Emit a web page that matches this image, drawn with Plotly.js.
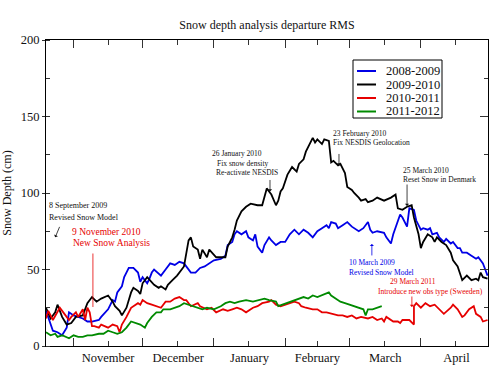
<!DOCTYPE html>
<html>
<head>
<meta charset="utf-8">
<script src="https://cdn.plot.ly/plotly-3.0.1.min.js"></script>
<style>html,body{margin:0;padding:0;background:#fff;}#chart{width:500px;height:379px;}</style>
</head>
<body>
<div id="chart"></div>
<script>
// Season names and colours
const seasonNames = ['2008-2009', '2009-2010', '2010-2011', '2011-2012'];
const seasonColors = ['#0000e6', '#000000', '#e60000', '#008a00'];

// Day of season (days after 20 October) and RMS snow-depth departure (cm)
const blueDays = [0,2,3,5,7,9,10,12,14,16,18,20,23,24,27,29,30,31,33,34,36,38,40,41,42,44,45,46,47,50,52,54,56,58,60,62,63,65,67,69,71,73,76,78,79,81,82,83,85,87,88,90,91,92,94,95,97,98,100,102,104,106,108,110,112,114,116,118,120,122,123,124,126,127,129,131,133,136,138,140,141,142,144,147,148,150,151,153,154,155,157,158,160,161,163,164,166,167,168,170,171,173,174,176,177,179,180,181,183,185,187,188,190,191,192];
const blueVals = [23,15,10,9,7,12,22,20,19,18,16,16,17,19,24,30,29,35,39,45,51,51,48,42,45,41,44,48,50,46,50,54,53,55,54,50,48,48,51,52,54,56,57,59,66,68,73,75,73,75,71,69,73,65,61,66,71,69,66,68,68,73,76,73,76,74,71,75,77,79,77,81,80,77,79,81,78,75,77,81,76,74,75,74,71,67,73,82,86,84,78,90,89,82,76,77,76,77,73,74,71,68,70,67,68,64,64,61,61,59,57,58,54,50,46];

const blackDays = [0,2,4,5,7,9,11,13,16,18,20,22,24,27,29,30,32,33,35,37,38,40,41,42,44,47,49,50,52,53,55,57,60,61,62,63,64,66,67,68,70,71,73,74,77,78,79,81,82,83,85,87,89,92,94,96,97,98,100,101,102,103,105,107,109,110,112,113,116,117,118,120,121,123,124,125,127,128,130,131,133,134,136,137,139,140,142,144,147,150,152,153,155,157,159,160,162,163,164,166,168,169,170,172,174,176,177,179,181,183,185,187,188,189,190,192];
const blackVals = [25,18,22,27,19,14,15,19,20,28,32,29,31,33,29,26,23,20,25,35,38,36,34,41,45,40,38,39,37,40,43,46,52,61,69,71,65,63,57,63,58,63,60,58,58,58,65,71,76,82,88,91,93,92,92,103,101,99,92,95,101,103,112,117,114,119,122,127,136,133,135,132,135,134,120,121,118,119,113,104,102,100,97,95,96,94,95,97,95,97,99,90,89,91,92,84,73,64,68,73,71,68,71,68,66,61,56,52,43,46,43,44,43,48,45,44];

const redDays = [0,1,3,5,6,8,10,11,13,14,16,17,18,19,20,21,23,24,27,29,31,32,33,35,37,40,41,42,44,46,48,50,52,54,56,58,60,61,63,66,67,70,72,74,77,79,81,83,85,87,90,92,94,97,98,100,102,104,106,108,110,111,113,116,118,120,122,124,127,129,131,133,135,137,140,142,144,146,147,148,150,151,153,154,155,157,158,160,160,161,163,165,167,169,171,173,176,177,179,181,182,184,186,187,189,190,192];
const redVals = [18,23,17,22,25,21,17,19,22,19,24,17,25,22,13,13,12,14,12,14,13,9,14,19,25,28,27,30,28,27,26,25,29,29,31,32,30,30,26,28,26,24,25,22,24,23,24,25,24,22,25,26,28,29,30,27,26,27,28,29,28,26,25,24,24,22,22,21,20,20,19,20,18,19,18,19,17,18,16,19,17,16,16,15,17,17,17,14,26,28,25,28,26,27,24,21,25,27,24,19,20,24,26,21,19,16,17];

const greenDays = [0,2,4,5,7,10,12,14,16,18,20,23,25,27,29,31,33,35,37,39,41,43,44,46,48,50,51,54,56,58,60,62,64,66,68,70,73,76,78,80,82,84,87,90,93,95,97,100,101,103,105,107,110,112,114,116,118,120,123,124,126,128,130,132,134,137,138,139,140,142,144,146];
const greenVals = [9,7,8,6,7,5,7,6,6,7,7,8,8,10,9,8,9,12,16,15,14,12,15,19,22,22,24,24,25,26,28,27,26,25,24,25,24,26,28,29,28,29,30,29,30,31,30,29,26,27,28,29,31,32,31,33,32,33,35,33,31,29,28,27,26,25,24,20,24,24,25,26];

// Axis settings
const seasonStart = '2009-10-20';
const axisEndDay = 192.2;
const minorTickDates = ['2009-11-16','2009-12-16','2010-01-16','2010-02-15','2010-03-16','2010-04-16'];

// Event arrows: tip position (day of season, value)
const eventDays = [4, 20.4, 97.4, 127.4, 157, 141.7, 159.1];
const eventVals = [71, 25.5, 101, 118, 91.5, 66.7, 25.5];

const startMs = Date.parse(seasonStart + 'T00:00:00Z');
function dayToDate(d) {
  return new Date(startMs + d * 86400000).toISOString().slice(0, 19).replace('T', ' ');
}

const series = [
  [blueDays, blueVals], [blackDays, blackVals], [redDays, redVals], [greenDays, greenVals]
];
const traces = series.map((s, i) => ({
  type: 'scatter', mode: 'lines',
  x: s[0].map(dayToDate), y: s[1],
  name: seasonNames[i],
  line: {color: seasonColors[i], width: 1.8},
  showlegend: false
}));
traces.push({type: 'scatter', mode: 'lines', x: [], y: [], yaxis: 'y2', showlegend: false});

const serif = 'Liberation Serif';

// Plot area in pixels: left 46, right 488, top 40, bottom 346
function px(x) { return (x - 46) / 442; }
function py(y) { return (346 - y) / 306; }

const texts = [
  ['8 September 2009', 48, 205, '#111', 8],
  ['Revised Snow Model', 48, 218, '#111', 8],
  ['9 November 2010', 71, 232, '#e60000', 9.5],
  ['New Snow Analysis', 72, 243, '#e60000', 9.5],
  ['26 January 2010', 211, 153, '#111', 7.5],
  ['Fix snow density', 216, 163, '#111', 7.5],
  ['Re-activate NESDIS', 215, 172, '#111', 7.5],
  ['23 February 2010', 332, 133, '#111', 7.5],
  ['Fix NESDIS Geolocation', 332, 142, '#111', 7.5],
  ['25 March 2010', 402, 170, '#111', 7.5],
  ['Reset Snow in Denmark', 402, 179, '#111', 7.5],
  ['10 March 2009', 348, 262, '#0000e6', 7.5],
  ['Revised Snow Model', 348, 272, '#0000e6', 7.5],
  ['29 March 2011', 389, 281, '#e60000', 7.5],
  ['Introduce new obs type (Sweeden)', 377, 291, '#e60000', 7.5]
];
const annotations = texts.map(t => ({
  text: t[0], xref: 'paper', yref: 'paper', x: px(t[1]), y: py(t[2]),
  xanchor: 'left', yanchor: 'middle', showarrow: false,
  font: {family: serif, size: t[4], color: t[3]}, borderpad: 0
}));

const arrowStyle = [
  {ax: 5, ay: -12, color: '#111', head: 1},
  {ax: 0, ay: -55, color: '#e60000', head: 0},
  {ax: 0, ay: -13, color: '#111', head: 1},
  {ax: 0, ay: -13, color: '#111', head: 1},
  {ax: 0, ay: -23, color: '#111', head: 1},
  {ax: 0, ay: 13, color: '#0000e6', head: 1},
  {ax: 0, ay: -12, color: '#e60000', head: 1}
];
eventDays.forEach((d, i) => {
  const s = arrowStyle[i];
  annotations.push({
    x: dayToDate(d), y: eventVals[i], xref: 'x', yref: 'y', text: '',
    showarrow: true, ax: s.ax, ay: s.ay, arrowcolor: s.color,
    arrowhead: s.head, arrowsize: 0.9, arrowwidth: 0.8, standoff: 0, startstandoff: 0
  });
});

// Manual legend
const legRows = [71, 84.5, 98, 111.5];
const shapes = [{
  type: 'rect', xref: 'paper', yref: 'paper',
  x0: px(353), x1: px(442), y0: py(118), y1: py(60),
  line: {color: '#000', width: 1}, fillcolor: '#fff', layer: 'above'
}];
seasonNames.forEach((n, i) => {
  shapes.push({
    type: 'line', xref: 'paper', yref: 'paper',
    x0: px(357), x1: px(376), y0: py(legRows[i]), y1: py(legRows[i]),
    line: {color: seasonColors[i], width: 2}, layer: 'above'
  });
  annotations.push({
    text: n, xref: 'paper', yref: 'paper', x: px(385), y: py(legRows[i]),
    xanchor: 'left', yanchor: 'middle', showarrow: false,
    font: {family: serif, size: 12.5, color: '#111'}, borderpad: 0
  });
});

const layout = {
  width: 500, height: 379,
  margin: {l: 46, r: 12, t: 40, b: 33},
  paper_bgcolor: '#fff', plot_bgcolor: '#fff',
  showlegend: false,
  font: {family: serif, color: '#111'},
  title: {text: 'Snow depth analysis departure RMS', x: 0.5, xref: 'paper', xanchor: 'center',
          y: 1 - 25 / 379, yref: 'container', yanchor: 'middle',
          font: {family: serif, size: 12, color: '#111'}},
  xaxis: {
    type: 'date', range: [dayToDate(0), dayToDate(axisEndDay)],
    tick0: '2009-11-01', dtick: 'M1', ticklabelmode: 'period', tickformat: '%B',
    ticks: 'inside', ticklen: 8, tickwidth: 1, tickcolor: '#333',
    showline: true, linecolor: '#000', linewidth: 1, mirror: 'ticks',
    showgrid: false, zeroline: false,
    tickfont: {family: serif, size: 12.5, color: '#111'},
    minor: {tickmode: 'array', tickvals: minorTickDates, ticks: 'inside', ticklen: 5, tickcolor: '#333', showgrid: false}
  },
  yaxis: {
    range: [0, 200], dtick: 50, ticks: 'outside', ticklen: 3, tickcolor: '#333',
    showline: true, linecolor: '#000', linewidth: 1, mirror: false,
    showgrid: false, zeroline: false,
    tickfont: {family: serif, size: 12.5, color: '#111'},
    title: {text: 'Snow Depth (cm)', standoff: 6, font: {family: serif, size: 12, color: '#111'}},
    minor: {dtick: 25, ticks: 'inside', ticklen: 4, tickcolor: '#333', showgrid: false}
  },
  yaxis2: {
    overlaying: 'y', side: 'right', anchor: 'x', range: [0, 200], dtick: 50,
    ticks: 'inside', ticklen: 8, tickcolor: '#333', showticklabels: false,
    showline: true, linecolor: '#000', linewidth: 1, showgrid: false, zeroline: false,
    minor: {dtick: 25, ticks: 'inside', ticklen: 4, tickcolor: '#333', showgrid: false}
  },
  annotations: annotations,
  shapes: shapes
};

Plotly.newPlot('chart', traces, layout, {staticPlot: true, displayModeBar: false});
</script>
</body>
</html>
